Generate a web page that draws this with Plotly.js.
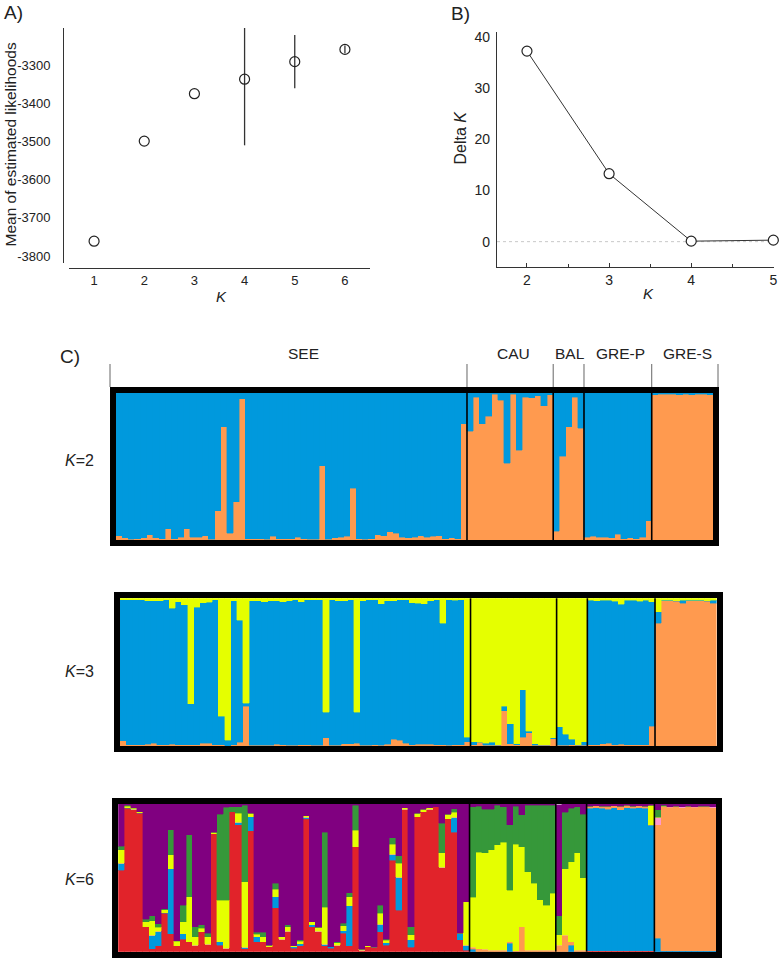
<!DOCTYPE html>
<html>
<head>
<meta charset="utf-8">
<script src="https://cdn.plot.ly/plotly-3.0.1.min.js"></script>
<style>
  html, body { margin: 0; padding: 0; background: #fff; }
  #chart { width: 781px; height: 960px; }
</style>
</head>
<body>
<div id="chart"></div>
<script>
// ---- panel A: mean log likelihood per K ----
const kValues = [1, 2, 3, 4, 5, 6];
const meanLnP = [-3761, -3499, -3375, -3337, -3291, -3259];
const sdLnP = [0, 0, 0, 173, 70, 10];
const lnPTicks = [-3800, -3700, -3600, -3500, -3400, -3300];
const lnPTickText = ['-3800', '-3700', '-3600', '-3500', '-3400', '-3300'];

// ---- panel B: Delta K ----
const kDelta = [2, 3, 4, 5];
const deltaK = [37.3, 13.3, 0.1, 0.3];

// ---- panel C: membership per individual ----
const popNames = ['SEE', 'CAU', 'BAL', 'GRE-P', 'GRE-S'];
const popSizes = [57, 14, 5, 11, 10];

// K=2 (bottom -> top: orange, blue)
const k2Orange = [
  0.03, 0.015, 0.005, 0.01, 0.015, 0.035, 0.015, 0.01, 0.075, 0.01,
  0.02, 0.075, 0.02, 0.02, 0.03, 0.005, 0.2, 0.77, 0.045, 0.26,
  0.96, 0.01, 0.01, 0.01, 0.005, 0.027, 0.01, 0.008, 0.01, 0.018,
  0.008, 0.005, 0.005, 0.505, 0.005, 0.015, 0.02, 0.025, 0.35, 0.008,
  0.005, 0.01, 0.035, 0.03, 0.057, 0.045, 0.02, 0.015, 0.02, 0.03,
  0.02, 0.025, 0.03, 0.01, 0.015, 0.01, 0.79,
  0.74, 0.97, 0.79, 0.84, 0.99, 0.95, 0.52, 0.99, 0.61, 0.97, 0.965, 0.98, 0.91, 0.985,
  0.06, 0.57, 0.77, 0.97, 0.76,
  0.02, 0.025, 0.02, 0.02, 0.015, 0.04, 0.01, 0.015, 0.01, 0.02, 0.13,
  0.985, 0.99, 0.99, 0.99, 0.985, 0.99, 0.985, 0.99, 0.99, 0.985
];
const k2Blue = [
  0.97, 0.985, 0.995, 0.99, 0.985, 0.965, 0.985, 0.99, 0.925, 0.99,
  0.98, 0.925, 0.98, 0.98, 0.97, 0.995, 0.8, 0.23, 0.955, 0.74,
  0.04, 0.99, 0.99, 0.99, 0.995, 0.973, 0.99, 0.992, 0.99, 0.982,
  0.992, 0.995, 0.995, 0.495, 0.995, 0.985, 0.98, 0.975, 0.65, 0.992,
  0.995, 0.99, 0.965, 0.97, 0.943, 0.955, 0.98, 0.985, 0.98, 0.97,
  0.98, 0.975, 0.97, 0.99, 0.985, 0.99, 0.21,
  0.26, 0.03, 0.21, 0.16, 0.01, 0.05, 0.48, 0.01, 0.39, 0.03, 0.035, 0.02, 0.09, 0.015,
  0.94, 0.43, 0.23, 0.03, 0.24,
  0.98, 0.975, 0.98, 0.98, 0.985, 0.96, 0.99, 0.985, 0.99, 0.98, 0.87,
  0.015, 0.01, 0.01, 0.01, 0.015, 0.01, 0.015, 0.01, 0.01, 0.015
];

// K=3 (bottom -> top: orange, blue, yellow)
const k3Orange = [
  0.034, 0.01, 0.007, 0.01, 0.013, 0.018, 0.009, 0.009, 0.013, 0.007,
  0.007, 0.007, 0.007, 0.018, 0.018, 0.007, 0.007, 0.002, 0.007, 0.025,
  0.27, 0.005, 0.005, 0.005, 0.005, 0.011, 0.007, 0.005, 0.005, 0.007,
  0.007, 0.005, 0.005, 0.056, 0.005, 0.005, 0.014, 0.014, 0.018, 0.005,
  0.005, 0.007, 0.005, 0.011, 0.045, 0.04, 0.018, 0.007, 0.011, 0.013,
  0.011, 0.009, 0.01, 0.005, 0.01, 0.008, 0.03,
  0.01, 0.025, 0.005, 0.005, 0.005, 0.24, 0.015, 0.01, 0.06, 0.09, 0.005, 0.005, 0.005, 0.05,
  0.005, 0.005, 0.01, 0.005, 0.005,
  0.01, 0.01, 0.015, 0.02, 0.01, 0.012, 0.01, 0.008, 0.01, 0.01, 0.135,
  0.83, 0.983, 0.983, 0.98, 0.968, 0.983, 0.983, 0.983, 0.98, 0.968
];
const k3Blue = [
  0.955, 0.979, 0.982, 0.979, 0.971, 0.966, 0.975, 0.98, 0.919, 0.97,
  0.948, 0.278, 0.932, 0.953, 0.955, 0.982, 0.193, 0.038, 0.975, 0.825,
  0.02, 0.979, 0.979, 0.972, 0.979, 0.973, 0.97, 0.979, 0.984, 0.97,
  0.982, 0.984, 0.984, 0.174, 0.984, 0.979, 0.97, 0.975, 0.212, 0.979,
  0.984, 0.982, 0.957, 0.973, 0.939, 0.949, 0.971, 0.964, 0.955, 0.949,
  0.973, 0.98, 0.82, 0.984, 0.977, 0.981, 0.03,
  0.02, 0, 0.015, 0.02, 0.005, 0.03, 0.135, 0.005, 0.32, 0.01, 0.01, 0.005, 0.005, 0.005,
  0.125, 0.075, 0.035, 0.005, 0.025,
  0.978, 0.972, 0.973, 0.966, 0.97, 0.948, 0.978, 0.978, 0.97, 0.978, 0.84,
  0.08, 0.005, 0.005, 0.005, 0.02, 0.005, 0.005, 0.005, 0.005, 0.02
];
const k3Yellow = [
  0.011, 0.011, 0.011, 0.011, 0.016, 0.016, 0.016, 0.011, 0.068, 0.023,
  0.045, 0.715, 0.061, 0.029, 0.027, 0.011, 0.8, 0.96, 0.018, 0.15,
  0.71, 0.016, 0.016, 0.023, 0.016, 0.016, 0.023, 0.016, 0.011, 0.023,
  0.011, 0.011, 0.011, 0.77, 0.011, 0.016, 0.016, 0.011, 0.77, 0.016,
  0.011, 0.011, 0.038, 0.016, 0.016, 0.011, 0.011, 0.029, 0.034, 0.038,
  0.016, 0.011, 0.17, 0.011, 0.013, 0.011, 0.94,
  0.97, 0.975, 0.98, 0.975, 0.99, 0.73, 0.85, 0.985, 0.62, 0.9, 0.985, 0.99, 0.99, 0.945,
  0.87, 0.92, 0.955, 0.99, 0.97,
  0.012, 0.018, 0.012, 0.014, 0.02, 0.04, 0.012, 0.014, 0.02, 0.012, 0.025,
  0.09, 0.012, 0.012, 0.015, 0.012, 0.012, 0.012, 0.012, 0.015, 0.012
];

// K=6 (bottom -> top: red, blue, orange, pink, yellow, green, purple)
const k6Red = [
  0.55, 0.97, 0.96, 0.937, 0.17, 0.02, 0.04, 0.26, 0.12, 0.04,
  0.083, 0.068, 0.045, 0.135, 0.052, 0.8, 0.045, 0.023, 0.948, 0.86,
  0.02, 0.82, 0.068, 0.068, 0.034, 0.298, 0.083, 0.14, 0.023, 0.04,
  0.9, 0.17, 0.14, 0.04, 0.023, 0.045, 0.124, 0.04, 0.71, 0.011,
  0.034, 0.03, 0.135, 0.045, 0.62, 0.282, 0.965, 0.03, 0.914, 0.948,
  0.966, 0.98, 0.571, 0.9, 0.81, 0.08, 0.01,
  0, 0, 0, 0, 0, 0, 0, 0, 0, 0, 0, 0, 0, 0,
  0, 0, 0, 0, 0,
  0.005, 0.005, 0.005, 0.005, 0.005, 0.005, 0.005, 0.005, 0.005, 0.005, 0.005,
  0, 0, 0, 0, 0, 0, 0, 0, 0, 0
];
const k6Blue = [
  0.05, 0.005, 0.005, 0.005, 0, 0.09, 0.097, 0.005, 0.44, 0,
  0.04, 0, 0, 0, 0, 0, 0.023, 0, 0, 0.018,
  0.01, 0.095, 0.034, 0, 0, 0.074, 0, 0, 0.011, 0.014,
  0.01, 0.011, 0, 0.01, 0.01, 0, 0.018, 0.27, 0, 0,
  0, 0, 0.052, 0.016, 0.04, 0.221, 0, 0.05, 0, 0,
  0, 0, 0, 0, 0.1, 0.045, 0.034,
  0.015, 0, 0, 0, 0, 0, 0.056, 0, 0, 0, 0, 0, 0, 0,
  0, 0, 0.045, 0, 0,
  0.965, 0.97, 0.965, 0.96, 0.97, 0.955, 0.97, 0.965, 0.97, 0.965, 0.85,
  0.09, 0.005, 0.005, 0.005, 0.005, 0.005, 0.005, 0.005, 0.005, 0.005
];
const k6Orange = [
  0, 0, 0, 0, 0, 0, 0, 0, 0, 0,
  0, 0, 0, 0, 0, 0, 0, 0, 0, 0,
  0, 0, 0, 0, 0, 0, 0, 0, 0, 0,
  0, 0, 0, 0, 0, 0, 0, 0, 0, 0,
  0, 0, 0, 0, 0, 0, 0, 0, 0, 0,
  0, 0, 0, 0, 0, 0, 0,
  0.015, 0.02, 0.016, 0.011, 0.011, 0.011, 0.011, 0.005, 0.17, 0.011, 0.011, 0.011, 0.011, 0.011,
  0.045, 0.113, 0.023, 0.011, 0.011,
  0.015, 0.012, 0.015, 0.02, 0.012, 0.025, 0.015, 0.015, 0.012, 0.015, 0.005,
  0.77, 0.975, 0.972, 0.975, 0.97, 0.975, 0.972, 0.975, 0.975, 0.97
];
const k6Pink = [
  0, 0, 0, 0, 0, 0, 0, 0, 0, 0,
  0, 0, 0, 0, 0, 0, 0, 0, 0, 0,
  0, 0, 0, 0, 0, 0, 0, 0, 0, 0,
  0, 0, 0, 0, 0, 0, 0, 0, 0, 0,
  0, 0, 0, 0, 0, 0, 0, 0, 0, 0,
  0, 0, 0, 0, 0, 0, 0,
  0, 0, 0, 0, 0, 0, 0, 0, 0, 0, 0, 0, 0, 0,
  0, 0, 0, 0, 0,
  0, 0, 0, 0, 0, 0, 0, 0, 0, 0, 0,
  0.05, 0.005, 0.005, 0.005, 0.005, 0.005, 0.005, 0.005, 0.005, 0.005
];
const k6Yellow = [
  0.09, 0.01, 0.005, 0.005, 0.034, 0.1, 0.027, 0.02, 0.097, 0.03,
  0.08, 0.305, 0.056, 0.023, 0.05, 0.01, 0.28, 0.327, 0, 0.06,
  0.445, 0.023, 0.016, 0.034, 0.01, 0.05, 0.018, 0.03, 0.005, 0.016,
  0.01, 0.023, 0.027, 0.25, 0, 0.016, 0.034, 0.063, 0.113, 0.005,
  0.007, 0, 0.072, 0.018, 0.068, 0.095, 0.01, 0.034, 0.023, 0.015,
  0.01, 0, 0.1, 0.03, 0.034, 0, 0.293,
  0.34, 0.655, 0.655, 0.678, 0.712, 0.729, 0.35, 0.724, 0.542, 0.532, 0.452, 0.342, 0.305, 0.384,
  0.07, 0.45, 0.54, 0.66, 0.49,
  0, 0, 0, 0, 0, 0, 0, 0, 0, 0, 0.13,
  0, 0, 0, 0, 0, 0, 0, 0, 0, 0
];
const k6Green = [
  0.023, 0.005, 0.005, 0, 0.016, 0.035, 0.025, 0.005, 0.17, 0.005,
  0.113, 0.418, 0.068, 0.023, 0.023, 0, 0.584, 0.628, 0.034, 0.045,
  0.515, 0, 0.014, 0.03, 0, 0.04, 0, 0.011, 0, 0.011,
  0, 0, 0, 0.51, 0, 0.007, 0.018, 0.027, 0.17, 0,
  0, 0, 0.056, 0.005, 0.045, 0.05, 0, 0.056, 0, 0,
  0, 0, 0.2, 0, 0.023, 0, 0,
  0.612, 0.311, 0.293, 0.275, 0.27, 0.242, 0.441, 0.257, 0.214, 0.45, 0.53, 0.64, 0.677, 0.598,
  0.13, 0.38, 0.362, 0.311, 0.431,
  0, 0, 0, 0, 0, 0, 0, 0, 0, 0, 0,
  0.05, 0.005, 0, 0, 0, 0, 0, 0, 0, 0
];
const k6Purple = [
  0.287, 0.01, 0.025, 0.053, 0.78, 0.755, 0.811, 0.71, 0.173, 0.925,
  0.684, 0.209, 0.831, 0.819, 0.875, 0.19, 0.068, 0.022, 0.018, 0.017,
  0.01, 0.062, 0.868, 0.868, 0.956, 0.538, 0.899, 0.819, 0.961, 0.919,
  0.08, 0.796, 0.833, 0.19, 0.967, 0.932, 0.806, 0.6, 0.007, 0.984,
  0.959, 0.97, 0.685, 0.916, 0.227, 0.352, 0.025, 0.83, 0.063, 0.037,
  0.024, 0.02, 0.129, 0.07, 0.033, 0.875, 0.663,
  0.018, 0.014, 0.036, 0.036, 0.007, 0.018, 0.142, 0.014, 0.074, 0.007, 0.007, 0.007, 0.007, 0.007,
  0.75, 0.057, 0.03, 0.018, 0.068,
  0.015, 0.018, 0.02, 0.02, 0.018, 0.02, 0.015, 0.02, 0.018, 0.02, 0.015,
  0.04, 0.015, 0.02, 0.015, 0.02, 0.015, 0.02, 0.015, 0.015, 0.02
];

const colors = {
  blue: '#0099dd', orange: '#ff9a4f', yellow: '#e5ff00', red: '#e1232a',
  green: '#36983a', purple: '#800080', pink: '#ff99cc'
};

const W = 781, H = 960;
const fx = px => px / W;
const fy = px => 1 - px / H;
const FONT = '"Liberation Sans", Arial, sans-serif';
const TXT = '#222';

const nInd = popSizes.reduce((a, b) => a + b, 0);
const indiv = Array.from({length: nInd}, (_, i) => i);
// population boundaries in bar units
const bounds = [];
popSizes.reduce((acc, n, i) => { acc += n; if (i < popSizes.length - 1) bounds.push(acc - 0.5); return acc; }, 0);

function stack(parts, xa, ya) {
  return parts.map(p => ({
    type: 'bar', x: indiv, y: p[0], xaxis: xa, yaxis: ya,
    marker: {color: p[1], line: {width: 0.4, color: p[1]}},
    width: 1, hoverinfo: 'skip', cliponaxis: true
  }));
}

const traces = [
  {
    type: 'scatter', mode: 'markers', x: kValues, y: meanLnP, xaxis: 'x', yaxis: 'y',
    error_y: {type: 'data', array: sdLnP, visible: true, width: 0, color: '#333', thickness: 1.3},
    marker: {symbol: 'circle-open', size: 10, color: '#222', line: {width: 1.2}},
    hoverinfo: 'skip'
  },
  {
    type: 'scatter', mode: 'lines+markers', x: kDelta, y: deltaK, xaxis: 'x2', yaxis: 'y2',
    line: {color: '#333', width: 1},
    marker: {symbol: 'circle', size: 10, color: '#fff', line: {color: '#222', width: 1.2}},
    cliponaxis: false, hoverinfo: 'skip'
  },
  ...stack([[k2Orange, colors.orange], [k2Blue, colors.blue]], 'x3', 'y3'),
  ...stack([[k3Orange, colors.orange], [k3Blue, colors.blue], [k3Yellow, colors.yellow]], 'x4', 'y4'),
  ...stack([[k6Red, colors.red], [k6Blue, colors.blue], [k6Orange, colors.orange], [k6Pink, colors.pink],
            [k6Yellow, colors.yellow], [k6Green, colors.green], [k6Purple, colors.purple]], 'x5', 'y5')
];

// structure panel frames (pixel boxes of inner plot area)
const boxes = [
  {x0: 116, x1: 713.3, y0: 392.7, y1: 540},
  {x0: 120, x1: 716.5, y0: 598.3, y1: 746},
  {x0: 118.3, x1: 716, y0: 804, y1: 951.7}
];

function barAxes(b) {
  const common = {showgrid: false, zeroline: false, showticklabels: false, ticks: '',
                  showline: true, mirror: true, linewidth: 6, linecolor: '#000', fixedrange: true};
  return [
    Object.assign({domain: [fx(b.x0), fx(b.x1)], range: [-0.5, nInd - 0.5]}, common),
    Object.assign({domain: [fy(b.y1), fy(b.y0)], range: [0, 1]}, common)
  ];
}
const [x3, y3] = barAxes(boxes[0]);
const [x4, y4] = barAxes(boxes[1]);
const [x5, y5] = barAxes(boxes[2]);
x3.anchor = 'y3'; y3.anchor = 'x3';
x4.anchor = 'y4'; y4.anchor = 'x4';
x5.anchor = 'y5'; y5.anchor = 'x5';

const shapes = [];
// dotted zero line in panel B
shapes.push({type: 'line', xref: 'x2 domain', yref: 'y2', x0: 0, x1: 1, y0: 0, y1: 0,
             line: {color: '#c8c8c8', width: 1, dash: 'dot'}, layer: 'below'});
// population separators
['3', '4', '5'].forEach(n => {
  bounds.forEach(b => shapes.push({type: 'line', xref: 'x' + n, yref: 'y' + n + ' domain',
    x0: b, x1: b, y0: 0, y1: 1, line: {color: '#000', width: 1.6}}));
});
// bracket ticks above K=2
const brTop = fy(364), brBot = fy(387);
bounds.forEach(b => shapes.push({type: 'line', xref: 'x3', yref: 'paper', x0: b, x1: b,
  y0: brBot, y1: brTop, line: {color: '#666', width: 1}}));
[110, 718].forEach(px => shapes.push({type: 'line', xref: 'paper', yref: 'paper',
  x0: fx(px), x1: fx(px), y0: brBot, y1: brTop, line: {color: '#666', width: 1}}));

function note(text, px, py, size, extra) {
  return Object.assign({text: text, xref: 'paper', yref: 'paper', x: fx(px), y: fy(py),
    xanchor: 'center', yanchor: 'middle', showarrow: false,
    font: {family: FONT, size: size, color: TXT}}, extra || {});
}
const popLabelX = [303, 513.5, 570, 620, 687.5];
const annotations = [
  note('A)', 13, 12.5, 19),
  note('B)', 461, 13, 19),
  note('C)', 70, 357, 19),
  note('Mean of estimated likelihoods', 10, 144.5, 15.5, {textangle: -90}),
  note('<i>K</i>', 221, 296, 15),
  note('Delta <i>K</i>', 460, 137.5, 16, {textangle: -90}),
  note('<i>K</i>', 648, 293, 15),
  note('<i>K</i>=2', 79, 460, 16),
  note('<i>K</i>=3', 79, 671, 16),
  note('<i>K</i>=6', 79, 879, 16),
  ...popNames.map((nm, i) => note(nm, popLabelX[i], 353, 15.5))
];

const layout = {
  width: W, height: H,
  margin: {l: 0, r: 0, t: 0, b: 0},
  paper_bgcolor: '#fff', plot_bgcolor: '#fff',
  showlegend: false, barmode: 'stack', bargap: 0,
  font: {family: FONT, color: TXT},
  xaxis: {
    domain: [fx(69), fx(370)], range: [0.5, 6.5], anchor: 'free', position: fy(268),
    showline: true, linecolor: '#333', linewidth: 1.2, ticks: '', tickvals: kValues,
    showgrid: false, zeroline: false, tickfont: {size: 13, color: TXT}, fixedrange: true
  },
  yaxis: {
    domain: [fy(263), fy(28)], range: [-3818, -3203], anchor: 'free', position: fx(63),
    showline: true, linecolor: '#333', linewidth: 1.2, ticks: '',
    tickmode: 'array', tickvals: lnPTicks, ticktext: lnPTickText, ticklabelstandoff: 10,
    showgrid: false, zeroline: false, tickfont: {size: 13, color: TXT}, fixedrange: true
  },
  xaxis2: {
    domain: [fx(497), fx(774)], range: [1.635, 5.008], anchor: 'y2',
    showline: true, linecolor: '#333', linewidth: 1.2,
    ticks: 'inside', ticklen: 4, tickcolor: '#333', tickvals: kDelta,
    minor: {tickmode: 'array', tickvals: [2.5, 3.5, 4.5], ticks: 'inside', ticklen: 3, tickcolor: '#333'},
    showgrid: false, zeroline: false, tickfont: {size: 14, color: TXT}, fixedrange: true
  },
  yaxis2: {
    domain: [fy(266.7), fy(31.7)], range: [-4.9, 41.1], anchor: 'x2',
    showline: true, linecolor: '#333', linewidth: 1.2, ticks: '',
    tickvals: [0, 10, 20, 30, 40], ticklabelstandoff: 3,
    showgrid: false, zeroline: false, tickfont: {size: 14, color: TXT}, fixedrange: true
  },
  xaxis3: x3, yaxis3: y3,
  xaxis4: x4, yaxis4: y4,
  xaxis5: x5, yaxis5: y5,
  shapes: shapes,
  annotations: annotations
};

Plotly.newPlot('chart', traces, layout, {staticPlot: true, displayModeBar: false});
</script>
</body>
</html>
